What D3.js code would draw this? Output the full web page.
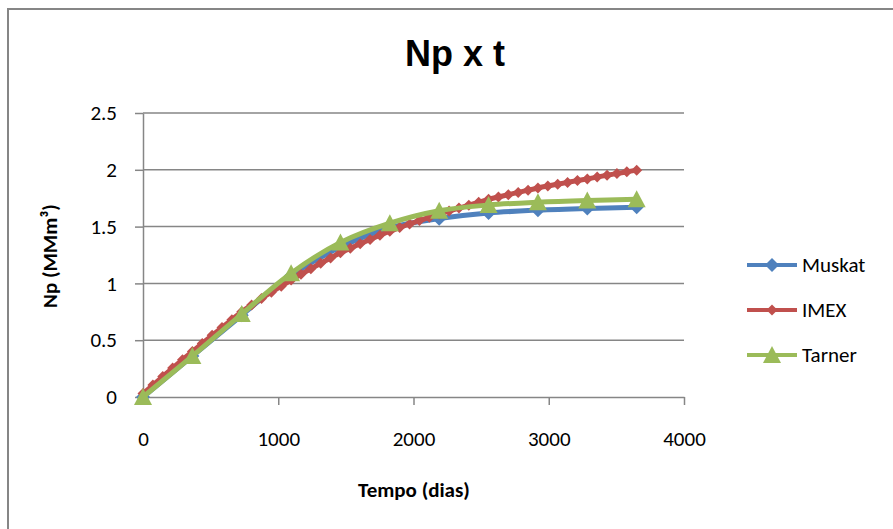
<!DOCTYPE html>
<html>
<head>
<meta charset="utf-8">
<script src="https://cdn.jsdelivr.net/npm/d3@7"></script>
<style>
  body { margin: 0; background: #fff; }
  svg { display: block; }
</style>
</head>
<body>
<div id="chart"></div>
<script>
const days = [0, 365, 730, 1095, 1460, 1825, 2190, 2555, 2920, 3285, 3650];
const muskat = [0, 0.36, 0.72, 1.07, 1.32, 1.49, 1.57, 1.62, 1.645, 1.66, 1.67];
const tarner = [0, 0.36, 0.73, 1.09, 1.36, 1.53, 1.64, 1.69, 1.715, 1.73, 1.74];

const imexDays = [0, 73, 146, 219, 292, 365, 438, 511, 584, 657, 730, 803, 876, 949, 1022,
  1095, 1168, 1241, 1314, 1387, 1460, 1533, 1606, 1679, 1752, 1825, 1898, 1971, 2044, 2117,
  2190, 2263, 2336, 2409, 2482, 2555, 2628, 2701, 2774, 2847, 2920, 2993, 3066, 3139, 3212,
  3285, 3358, 3431, 3504, 3577, 3650];
const imex = [0.03, 0.105, 0.18, 0.255, 0.328, 0.40, 0.472, 0.543, 0.612, 0.681, 0.75, 0.809,
  0.866, 0.922, 0.976, 1.03, 1.08, 1.129, 1.177, 1.224, 1.27, 1.31, 1.349, 1.387, 1.424, 1.46,
  1.492, 1.523, 1.553, 1.582, 1.61, 1.637, 1.663, 1.689, 1.714, 1.74, 1.761, 1.781, 1.801,
  1.821, 1.84, 1.857, 1.873, 1.889, 1.905, 1.92, 1.936, 1.952, 1.967, 1.982, 1.997];

const xTicks = [0, 1000, 2000, 3000, 4000];
const yTicks = [0, 0.5, 1, 1.5, 2, 2.5];
const seriesNames = ["Muskat", "IMEX", "Tarner"];

const W = 893, H = 529;
const plot = {left: 143, right: 684, top: 113, bottom: 397};
const gray = "#868686";
const font = "Carlito, Lato, sans-serif";
const colors = {Muskat: "#4F81BD", IMEX: "#C0504D", Tarner: "#9BBB59"};

const svg = d3.select("#chart").append("svg")
  .attr("width", W).attr("height", H);

// moldura
svg.append("rect")
  .attr("x", 8).attr("y", 9).attr("width", 900).attr("height", 600)
  .attr("fill", "#fff").attr("stroke", gray).attr("stroke-width", 2);

const x = d3.scaleLinear().domain([0, 4000]).range([plot.left, plot.right]);
const y = d3.scaleLinear().domain([0, 2.5]).range([plot.bottom, plot.top]);

// grade horizontal
svg.append("g").selectAll("line")
  .data(yTicks.slice(1))
  .enter().append("line")
  .attr("x1", plot.left).attr("x2", plot.right)
  .attr("y1", d => y(d)).attr("y2", d => y(d))
  .attr("stroke", gray).attr("stroke-width", 1.5);

const yAxis = d3.axisLeft(y).tickValues(yTicks).tickFormat(d3.format(""))
  .tickSize(8).tickSizeOuter(0).tickPadding(18);
const gy = svg.append("g").attr("transform", "translate(" + plot.left + ",0)").call(yAxis);

const xAxis = d3.axisBottom(x).tickValues(xTicks).tickFormat(d3.format(""))
  .tickSize(8).tickSizeOuter(0);
const gx = svg.append("g").attr("transform", "translate(0," + plot.bottom + ")").call(xAxis);

[gx, gy].forEach(g => {
  g.select(".domain").attr("stroke", gray).attr("stroke-width", 1.5);
  g.selectAll(".tick line").attr("stroke", gray).attr("stroke-width", 1.5);
  g.selectAll("text").attr("font-family", font).attr("font-size", 21).attr("fill", "#000");
});
gx.selectAll("text").attr("y", 41.5).attr("dy", "0.35em");

// titulos
svg.append("text")
  .attr("x", 455).attr("y", 66).attr("text-anchor", "middle")
  .attr("font-family", "Liberation Sans, Arial, sans-serif").attr("font-weight", "bold")
  .attr("font-size", 36)
  .text("Np x t");

svg.append("text")
  .attr("x", 414).attr("y", 497).attr("text-anchor", "middle")
  .attr("font-family", font).attr("font-weight", "bold").attr("font-size", 21)
  .text("Tempo (dias)");

svg.append("text")
  .attr("transform", "translate(57,256) rotate(-90)")
  .attr("text-anchor", "middle")
  .attr("font-family", font).attr("font-weight", "bold").attr("font-size", 21)
  .text("Np (MMm³)");

// marcadores
const diamond = r => "M0," + (-r) + "L" + r + ",0L0," + r + "L" + (-r) + ",0Z";
const triangle = "M0,-9L9,8L-9,8Z";
const markerPath = {Muskat: diamond(7), IMEX: diamond(5.5), Tarner: triangle};
const lineWidth = {Muskat: 5, IMEX: 5, Tarner: 5};

const smooth = d3.line()
  .x(d => x(d[0])).y(d => y(d[1]))
  .curve(d3.curveCatmullRom.alpha(0.5));

const series = [
  {name: "Muskat", pts: days.map((d, i) => [d, muskat[i]])},
  {name: "IMEX", pts: imexDays.map((d, i) => [d, imex[i]])},
  {name: "Tarner", pts: days.map((d, i) => [d, tarner[i]])}
];

series.forEach(s => {
  const g = svg.append("g");
  g.append("path")
    .attr("d", smooth(s.pts))
    .attr("fill", "none")
    .attr("stroke", colors[s.name])
    .attr("stroke-width", lineWidth[s.name])
    .attr("stroke-linejoin", "round");
  g.selectAll("path.m")
    .data(s.pts)
    .enter().append("path")
    .attr("class", "m")
    .attr("d", markerPath[s.name])
    .attr("transform", d => "translate(" + x(d[0]) + "," + y(d[1]) + ")")
    .attr("fill", colors[s.name]);
});

// legenda
const legend = svg.append("g");
seriesNames.forEach((name, i) => {
  const ly = 265 + i * 45;
  legend.append("line")
    .attr("x1", 747).attr("x2", 797).attr("y1", ly).attr("y2", ly)
    .attr("stroke", colors[name]).attr("stroke-width", 4);
  legend.append("path")
    .attr("d", markerPath[name])
    .attr("transform", "translate(772," + ly + ")")
    .attr("fill", colors[name]);
  legend.append("text")
    .attr("x", 802).attr("y", ly).attr("dy", "0.35em")
    .attr("font-family", font).attr("font-size", 21)
    .text(name);
});
</script>
</body>
</html>
